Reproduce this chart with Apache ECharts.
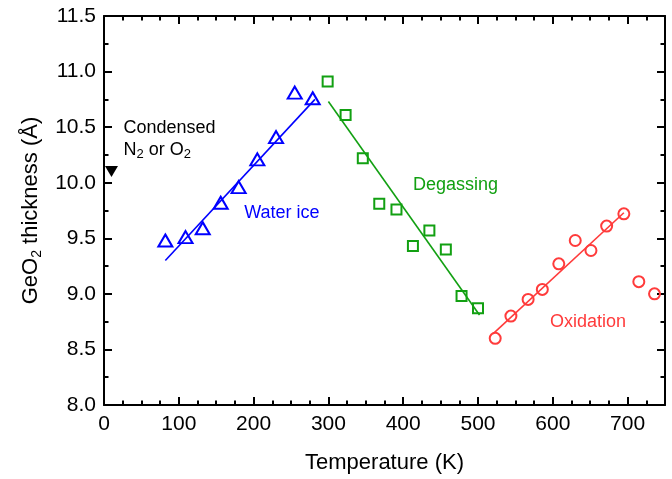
<!DOCTYPE html>
<html>
<head>
<meta charset="utf-8">
<script src="https://cdn.jsdelivr.net/npm/echarts@6/dist/echarts.min.js"></script>
<style>
  html, body { margin: 0; padding: 0; background: #fff; }
  #chart { width: 672px; height: 479px; }
</style>
</head>
<body>
<div id="chart"></div>
<script>
// Water ice regime
const iceTemp = [82, 109, 132, 156, 180, 205, 230, 255, 279];
const iceThick = [9.48, 9.51, 9.59, 9.82, 9.96, 10.21, 10.41, 10.81, 10.76];
const iceFitTemp = [82, 282];
const iceFitThick = [9.30, 10.75];

// Degassing regime
const degasTemp = [299, 323, 346, 368, 391, 413, 435, 457, 478, 500];
const degasThick = [10.91, 10.61, 10.22, 9.81, 9.76, 9.43, 9.57, 9.40, 8.98, 8.87];
const degasFitTemp = [300, 502];
const degasFitThick = [10.73, 8.81];

// Oxidation regime
const oxTemp = [523, 544, 567, 586, 608, 630, 651, 672, 695, 715, 736];
const oxThick = [8.60, 8.80, 8.95, 9.04, 9.27, 9.48, 9.39, 9.61, 9.72, 9.11, 9.00];
const oxFitTemp = [520, 695];
const oxFitThick = [8.64, 9.73];

// Condensed N2 / O2 reference point
const condTemp = [10];
const condThick = [10.10];

// Axis ticks
const xMin = 0, xMax = 750, xStep = 100, xMinorStep = 25;
const yMin = 8.0, yMax = 11.5, yStep = 0.5;

const FONT = 'Liberation Sans, Arial, sans-serif';
const BLUE = '#0000ff', GREEN = '#12a012', RED = '#ff3b3b';

const zip = (xs, ys) => xs.map((x, i) => [x, ys[i]]);

const subRich = (size) => ({
  s: { fontSize: size, fontFamily: FONT, lineHeight: 8, verticalAlign: 'bottom' }
});

const axisLineStyle = { show: true, onZero: false, lineStyle: { color: '#000', width: 2 } };
const majorTick = { show: true, inside: true, length: 8, lineStyle: { color: '#000', width: 2 } };
const minorTickX = { show: true, inside: true, length: 4.5, lineStyle: { color: '#000', width: 2 } };

const chart = echarts.init(document.getElementById('chart'), null, { renderer: 'canvas' });

const markerStyle = (c) => ({ color: 'transparent', borderColor: c, borderWidth: 2, opacity: 1 });
const fitLine = (xs, ys, c) => ({
  type: 'line', xAxisIndex: 0, yAxisIndex: 0, data: zip(xs, ys),
  showSymbol: false, symbol: 'none', lineStyle: { color: c, width: 1.6 }, z: 2, silent: true
});

const annotation = (x, y, text, color, align, rich) => ({
  value: [x, y],
  label: {
    show: true, position: 'inside', align: align, verticalAlign: 'middle',
    formatter: text, color: color, fontSize: 18, fontFamily: FONT, lineHeight: 22,
    rich: rich || {}
  }
});

chart.setOption({
  animation: false,
  backgroundColor: '#fff',
  textStyle: { fontFamily: FONT },
  grid: [
    { left: 104, right: 7, top: 16, bottom: 74 },
    { left: 104, right: 7, top: 16, bottom: 74 }
  ],
  xAxis: [
    {
      gridIndex: 0, type: 'value', position: 'bottom',
      min: xMin, max: xMax, interval: xStep,
      axisLine: axisLineStyle, axisTick: majorTick,
      axisLabel: { fontSize: 21, color: '#000', fontFamily: FONT, margin: 9, showMaxLabel: false },
      splitLine: { show: false },
      name: 'Temperature (K)', nameLocation: 'middle', nameGap: 47,
      nameTextStyle: { fontSize: 22, color: '#000', fontFamily: FONT }
    },
    {
      gridIndex: 0, type: 'value', position: 'top',
      min: xMin, max: xMax, interval: xStep,
      axisLine: axisLineStyle, axisTick: majorTick,
      axisLabel: { show: false }, splitLine: { show: false }
    },
    {
      gridIndex: 1, type: 'value', position: 'bottom',
      min: xMin, max: xMax, interval: xMinorStep,
      axisLine: { show: false, onZero: false }, axisTick: minorTickX,
      axisLabel: { show: false }, splitLine: { show: false }
    },
    {
      gridIndex: 1, type: 'value', position: 'top',
      min: xMin, max: xMax, interval: xMinorStep,
      axisLine: { show: false, onZero: false }, axisTick: minorTickX,
      axisLabel: { show: false }, splitLine: { show: false }
    }
  ],
  yAxis: [
    {
      gridIndex: 0, type: 'value', position: 'left',
      min: yMin, max: yMax, interval: yStep,
      axisLine: axisLineStyle, axisTick: majorTick,
      minorTick: { show: true, splitNumber: 2, length: 4.5, lineStyle: { color: '#000', width: 2 } },
      axisLabel: {
        fontSize: 21, color: '#000', fontFamily: FONT, margin: 8,
        formatter: (v) => v.toFixed(1)
      },
      splitLine: { show: false }, minorSplitLine: { show: false },
      name: 'GeO{s|2} thickness (Å)', nameLocation: 'middle', nameGap: 59,
      nameTextStyle: { fontSize: 22, color: '#000', fontFamily: FONT, lineHeight: 26, rich: subRich(14) }
    },
    {
      gridIndex: 0, type: 'value', position: 'right',
      min: yMin, max: yMax, interval: yStep,
      axisLine: axisLineStyle, axisTick: majorTick,
      minorTick: { show: true, splitNumber: 2, length: 4.5, lineStyle: { color: '#000', width: 2 } },
      axisLabel: { show: false }, splitLine: { show: false }, minorSplitLine: { show: false }
    },
    { gridIndex: 1, type: 'value', min: yMin, max: yMax, show: false }
  ],
  series: [
    fitLine(iceFitTemp, iceFitThick, BLUE),
    fitLine(degasFitTemp, degasFitThick, GREEN),
    fitLine(oxFitTemp, oxFitThick, RED),
    {
      name: 'Water ice', type: 'scatter', xAxisIndex: 0, yAxisIndex: 0,
      data: zip(iceTemp, iceThick), symbol: 'triangle', symbolSize: [14, 12],
      itemStyle: markerStyle(BLUE), z: 3
    },
    {
      name: 'Degassing', type: 'scatter', xAxisIndex: 0, yAxisIndex: 0,
      data: zip(degasTemp, degasThick), symbol: 'rect', symbolSize: 10,
      itemStyle: markerStyle(GREEN), z: 3
    },
    {
      name: 'Oxidation', type: 'scatter', xAxisIndex: 0, yAxisIndex: 0,
      data: zip(oxTemp, oxThick), symbol: 'circle', symbolSize: 11,
      itemStyle: markerStyle(RED), z: 3
    },
    {
      name: 'Condensed', type: 'scatter', xAxisIndex: 0, yAxisIndex: 0,
      data: zip(condTemp, condThick), symbol: 'triangle', symbolRotate: 180,
      symbolSize: [13, 11], itemStyle: { color: '#000', opacity: 1 }, z: 3
    },
    {
      name: 'labels', type: 'scatter', xAxisIndex: 0, yAxisIndex: 0,
      symbolSize: 0, silent: true, z: 4, itemStyle: { opacity: 1 },
      data: [
        annotation(26, 10.39, 'Condensed\nN{s|2} or O{s|2}', '#000', 'left', subRich(13)),
        annotation(237.7, 9.725, 'Water ice', BLUE, 'center'),
        annotation(470, 9.98, 'Degassing', GREEN, 'center'),
        annotation(647, 8.75, 'Oxidation', RED, 'center')
      ]
    }
  ]
});
</script>
</body>
</html>
